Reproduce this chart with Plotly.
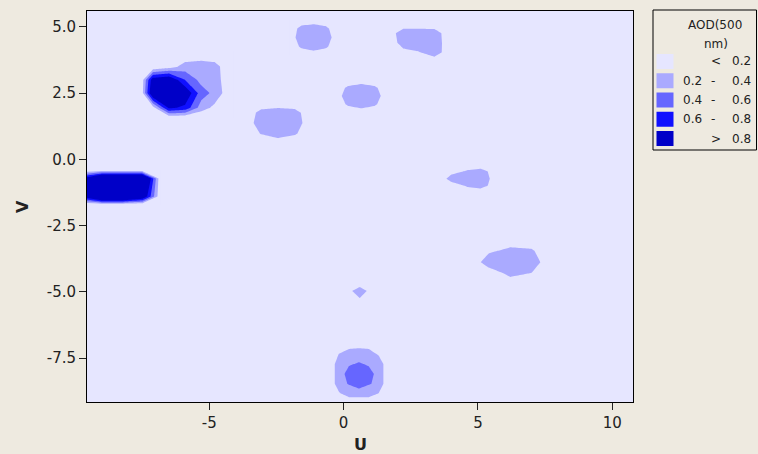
import plotly.graph_objects as go

# ---------------- data ----------------
# contour levels of AOD(500 nm)
level_start, level_end, level_step = 0.2, 0.8, 0.2
band_colors = ["#E6E6FF", "#AAAAFF", "#6666FF", "#1010FF", "#0000C8"]
legend_lo = ["", "0.2", "0.4", "0.6", ""]
legend_sep = ["<", "-", "-", "-", ">"]
legend_hi = ["0.2", "0.4", "0.6", "0.8", "0.8"]

x_ticks = [-5, 0, 5, 10]
y_ticks = [-7.5, -5.0, -2.5, 0.0, 2.5, 5.0]
x_title, y_title = "U", "V"

# local AOD grids (U, V, AOD[v][u]) around each hot spot
a_u = [-7.55, -7.1, -6.5, -5.9, -5.3, -4.8, -4.1]
a_v = [1.55, 1.95, 2.5, 3.0, 3.5, 4.1]
a_aod = [
    [0, 0, 0, 0, 0, 0, 0],
    [0, 0.1, 0.85, 0.75, 0.3, 0.15, 0],
    [0, 1.1, 1.15, 1.0, 0.5, 0.34, 0],
    [0, 0.95, 1.05, 0.6, 0.33, 0.3, 0],
    [0, 0, 0.1, 0.28, 0.32, 0.28, 0],
    [0, 0, 0, 0, 0, 0, 0],
]

b_u = [-9.6, -9.0, -8.2, -7.5, -6.8]
b_v = [-1.72, -1.4, -0.725, -0.4]
b_aod = [
    [0, 0, 0, 0, 0],
    [0.9, 1.5, 1.5, 1.1, 0],
    [0.9, 1.5, 1.5, 1.5, 0],
    [0, 0, 0, 0, 0],
]

c_u = [-3.67, -3.06, -2.44, -1.82, -1.21]
c_v = [0.6, 0.98, 1.37, 1.76, 2.14]
c_aod = [
    [0, 0, 0, 0, 0],
    [0, 0.22, 0.38, 0.24, 0],
    [0, 0.38, 0.39, 0.38, 0],
    [0, 0.3, 0.38, 0.32, 0],
    [0, 0, 0, 0, 0],
]

d_u = [-2.03, -1.57, -1.12, -0.66, -0.21]
d_v = [3.92, 4.26, 4.6, 4.94, 5.28]
d_aod = [
    [0, 0, 0, 0, 0],
    [0, 0.25, 0.38, 0.25, 0],
    [0, 0.38, 0.39, 0.38, 0],
    [0, 0.3, 0.38, 0.27, 0],
    [0, 0, 0, 0, 0],
]

e_u = [1.64, 2.22, 2.8, 3.38, 3.96]
e_v = [3.68, 4.04, 4.4, 4.76, 5.12]
e_aod = [
    [0, 0, 0, 0, 0],
    [0, 0.12, 0.18, 0.38, 0],
    [0, 0.32, 0.39, 0.39, 0],
    [0, 0.38, 0.38, 0.36, 0],
    [0, 0, 0, 0, 0],
]

f_u = [-0.33, 0.17, 0.66, 1.15, 1.64]
f_v = [1.77, 2.08, 2.39, 2.7, 3.01]
f_aod = [
    [0, 0, 0, 0, 0],
    [0, 0.25, 0.38, 0.25, 0],
    [0, 0.38, 0.39, 0.38, 0],
    [0, 0.26, 0.38, 0.26, 0],
    [0, 0, 0, 0, 0],
]

g_u = [3.6, 4.0, 4.6, 5.1, 5.8]
g_v = [-1.27, -1.0, -0.73, -0.46, -0.19]
g_aod = [
    [0, 0, 0, 0, 0],
    [0, 0, 0.235, 0.32, 0],
    [0, 0.35, 0.38, 0.39, 0],
    [0, 0.08, 0.245, 0.32, 0],
    [0, 0, 0, 0, 0],
]

h_u = [4.8, 5.4, 6.2, 7.0, 7.66]
h_v = [-4.75, -4.3, -3.88, -3.45, -3.0]
h_aod = [
    [0, 0, 0, 0, 0],
    [0, 0, 0.29, 0.19, 0],
    [0, 0.39, 0.39, 0.39, 0],
    [0, 0.142, 0.28, 0.237, 0],
    [0, 0, 0, 0, 0],
]

i_u = [-0.24, 0.6, 1.38]
i_v = [-5.76, -4.97, -4.52]
i_aod = [
    [0, 0, 0],
    [0, 0.3, 0],
    [0, 0, 0],
]

j_u = [-0.54, -0.17, 0.2, 0.57, 0.94, 1.31, 1.68]
j_v = [-9.21, -8.84, -8.47, -8.1, -7.73, -7.36, -6.85]
j_aod = [
    [0, 0, 0, 0, 0, 0, 0],
    [0, 0.17, 0.32, 0.32, 0.32, 0.19, 0],
    [0, 0.35, 0.41, 0.48, 0.41, 0.37, 0],
    [0, 0.35, 0.44, 0.5, 0.43, 0.37, 0],
    [0, 0.35, 0.39, 0.41, 0.39, 0.37, 0],
    [0, 0.21, 0.33, 0.36, 0.33, 0.17, 0],
    [0, 0, 0, 0, 0, 0, 0],
]

blobs = [
    (a_u, a_v, a_aod), (b_u, b_v, b_aod), (c_u, c_v, c_aod),
    (d_u, d_v, d_aod), (e_u, e_v, e_aod), (f_u, f_v, f_aod),
    (g_u, g_v, g_aod), (h_u, h_v, h_aod), (i_u, i_v, i_aod),
    (j_u, j_v, j_aod),
]

# ---------------- figure ----------------
W, H = 758, 454
PL, PR, PT, PB = 87, 633, 11, 402
FONT = "DejaVu Sans"
TXT = "#222222"

colorscale = [[k / (len(band_colors) - 1), c] for k, c in enumerate(band_colors)]

fig = go.Figure()
for u, v, z in blobs:
    fig.add_trace(go.Contour(
        x=u, y=v, z=z,
        contours=dict(start=level_start, end=level_end, size=level_step,
                      coloring="fill", showlines=False),
        line=dict(width=0, smoothing=0),
        colorscale=colorscale,
        showscale=False,
        hoverinfo="skip",
    ))


def pxx(x):
    return (x - PL) / (PR - PL)


def pyy(y):
    return (PB - y) / (PB - PT)


def note(text, x, y, xanchor="center", size=12, **kw):
    return dict(text=text, x=pxx(x), y=pyy(y), xref="paper", yref="paper",
                xanchor=xanchor, yanchor="middle", showarrow=False,
                font=dict(family=FONT, size=size, color=TXT), **kw)


shapes = [dict(type="rect", xref="paper", yref="paper",
               x0=pxx(653), x1=pxx(756.5), y0=pyy(150), y1=pyy(10),
               line=dict(color="#000000", width=1), fillcolor="rgba(0,0,0,0)")]
annotations = [
    note("AOD(500", 715, 25),
    note("nm)", 715.5, 44),
    note(f"<b>{x_title}</b>", 360, 444, size=16),
    note(f"<b>{y_title}</b>", 22.5, 206.5, size=16, textangle=-90),
]
for k, col in enumerate(band_colors):
    cy = 61.5 + k * 19.25
    shapes.append(dict(type="rect", xref="paper", yref="paper",
                       x0=pxx(656.5), x1=pxx(673.5), y0=pyy(cy + 7.5), y1=pyy(cy - 7.5),
                       line=dict(width=0), fillcolor=col))
    if legend_lo[k]:
        annotations.append(note(legend_lo[k], 703.5, cy, xanchor="right"))
    sep_x = 712.5 if legend_sep[k] == "-" else 716
    annotations.append(note(legend_sep[k], sep_x, cy))
    annotations.append(note(legend_hi[k], 752.5, cy, xanchor="right"))

axis_common = dict(
    showgrid=False, zeroline=False, showline=True, linecolor="#000000", linewidth=1,
    mirror=True, ticks="outside", ticklen=7, tickwidth=1, tickcolor=TXT,
    tickfont=dict(family=FONT, size=15, color=TXT), automargin=False,
)

fig.update_layout(
    width=W, height=H,
    margin=dict(l=PL, r=W - PR, t=PT, b=H - PB),
    paper_bgcolor="#EEEAE0",
    plot_bgcolor=band_colors[0],
    showlegend=False,
    xaxis=dict(range=[-9.55, 10.77], tickvals=x_ticks, ticktext=[str(t) for t in x_ticks],
               **axis_common),
    yaxis=dict(range=[-9.16, 5.6], tickvals=y_ticks, ticktext=[f"{t:.1f}" for t in y_ticks],
               **axis_common),
    shapes=shapes,
    annotations=annotations,
)

fig.write_html("out.html", config={"displayModeBar": False},
               post_script="document.body.style.margin='0';")
